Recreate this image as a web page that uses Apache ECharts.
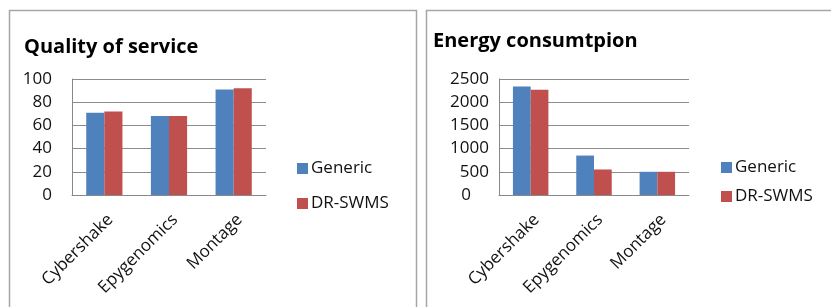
<!DOCTYPE html>
<html>
<head>
<meta charset="utf-8">
<script src="https://cdn.jsdelivr.net/npm/echarts@6/dist/echarts.min.js"></script>
<style>
  html, body { margin: 0; padding: 0; background: #fff; }
  #chart { width: 831px; height: 307px; }
</style>
</head>
<body>
<div id="chart"></div>
<script>
// data
const categories = ['Cybershake', 'Epygenomics', 'Montage']
const seriesNames = ['Generic', 'DR-SWMS']

const qosGeneric = [71, 68, 91]
const qosDrSwms = [72, 68, 92]

const energyGeneric = [2340, 850, 500]
const energyDrSwms = [2270, 550, 500]

const qosTicks = { min: 0, max: 100, interval: 20 }
const energyTicks = { min: 0, max: 2500, interval: 500 }

const BLUE = '#4f81bd'
const RED = '#c0504d'
const FONT = '"Open Sans", sans-serif'

const xAxisFor = gridIndex => ({
  type: 'category',
  gridIndex,
  data: categories,
  axisLine: { lineStyle: { color: '#888', width: 1 } },
  axisTick: { show: false },
  axisLabel: {
    rotate: 45, fontSize: 17, color: '#111', fontFamily: FONT,
    margin: 16, interval: 0, verticalAlign: 'top'
  }
})

const yAxisFor = (gridIndex, ticks, margin, zeroPad) => ({
  type: 'value',
  gridIndex,
  min: ticks.min,
  max: ticks.max,
  interval: ticks.interval,
  axisLine: { show: true, lineStyle: { color: '#888', width: 1 } },
  axisTick: { show: false },
  splitLine: { lineStyle: { color: '#8c8c8c', width: 1 } },
  axisLabel: {
    fontSize: 17, color: '#111', fontFamily: FONT, margin,
    formatter: v => (v === 0 && zeroPad ? '{z|0}' : String(v)),
    rich: { z: { fontSize: 17, color: '#111', fontFamily: FONT, padding: [0, zeroPad, 0, 0] } }
  }
})

const barSeries = (name, data, color, idx) => ({
  name,
  type: 'bar',
  xAxisIndex: idx,
  yAxisIndex: idx,
  data,
  barGap: '0%',
  barCategoryGap: '44%',
  itemStyle: { color },
  emphasis: { disabled: true }
})

const chart = echarts.init(document.getElementById('chart'), null, { renderer: 'canvas' })

chart.setOption({
  animation: false,
  backgroundColor: '#fff',
  title: [
    { text: 'Quality of service', left: 19, top: 32,
      textStyle: { fontSize: 20, fontWeight: 'bold', color: '#000', fontFamily: FONT } },
    { text: 'Energy consumtpion', left: 428, top: 26,
      textStyle: { fontSize: 20, fontWeight: 'bold', color: '#000', fontFamily: FONT } }
  ],
  legend: [
    { orient: 'vertical', left: 292, top: 155, itemWidth: 11, itemHeight: 11, itemGap: 18,
      icon: 'rect', data: seriesNames, selectedMode: false,
      textStyle: { fontSize: 17, color: '#111', fontFamily: FONT, padding: [0, 0, 0, -2] } },
    { orient: 'vertical', left: 716, top: 154, itemWidth: 11, itemHeight: 11, itemGap: 12,
      icon: 'rect', data: seriesNames, selectedMode: false,
      textStyle: { fontSize: 17, color: '#111', fontFamily: FONT, padding: [0, 0, 0, -2] } }
  ],
  grid: [
    { left: 72, right: 831 - 266, top: 79, bottom: 307 - 195 },
    { left: 499, right: 831 - 689, top: 79, bottom: 307 - 195 }
  ],
  xAxis: [xAxisFor(0), xAxisFor(1)],
  yAxis: [yAxisFor(0, qosTicks, 20, 0), yAxisFor(1, energyTicks, 10, 18)],
  series: [
    barSeries(seriesNames[0], qosGeneric, BLUE, 0),
    barSeries(seriesNames[1], qosDrSwms, RED, 0),
    barSeries(seriesNames[0], energyGeneric, BLUE, 1),
    barSeries(seriesNames[1], energyDrSwms, RED, 1)
  ],
  graphic: [
    // panel frames
    { type: 'rect', shape: { x: 9.5, y: 10.5, width: 407, height: 310 },
      style: { fill: 'none', stroke: '#a6a6a6', lineWidth: 1.5 }, silent: true },
    { type: 'rect', shape: { x: 426.5, y: 10.5, width: 420, height: 310 },
      style: { fill: 'none', stroke: '#a6a6a6', lineWidth: 1.5 }, silent: true }
  ]
})
</script>
</body>
</html>
